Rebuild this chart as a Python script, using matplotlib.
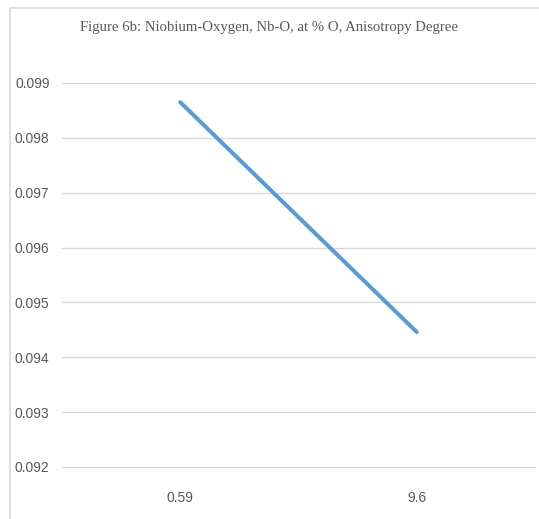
import matplotlib
matplotlib.use("Agg")
import matplotlib.pyplot as plt
from matplotlib.patches import Rectangle

categories = ["0.59", "9.6"]
values = [0.09865, 0.09446]
yticks = [0.092, 0.093, 0.094, 0.095, 0.096, 0.097, 0.098, 0.099]
title = "Figure 6b: Niobium-Oxygen, Nb-O, at % O, Anisotropy Degree"

W, H = 539, 519
fig = plt.figure(figsize=(W / 100, H / 100), dpi=100)
fig.patch.set_facecolor("white")

# chart border (cut off at right and bottom)
fig.patches.append(Rectangle((10 / W, -0.1), 1.2, 1 - 8 / H + 0.1,
                             transform=fig.transFigure, fill=False,
                             edgecolor="#d9d9d9", linewidth=1.2))

ax = fig.add_axes([62 / W, 1 - 467 / H, (535 - 62) / W, (467 - 83) / H])
x = list(range(len(categories)))
ax.plot(x, values, color="#5b9bd5", linewidth=2.9, solid_capstyle="round")
ax.set_xlim(-0.5, len(categories) - 0.5)
ax.set_ylim(0.092, 0.099)
ax.set_yticks(yticks)
ax.set_yticklabels([f"{v:.3f}" for v in yticks])
ax.set_xticks(x)
ax.set_xticklabels(categories)
ax.grid(axis="y", color="#d9d9d9", linewidth=1)
for gl in ax.get_ygridlines():
    gl.set_clip_on(False)
ax.set_axisbelow(True)
for s in ax.spines.values():
    s.set_visible(False)
ax.tick_params(axis="both", length=0, colors="#595959", labelsize=10)
ax.tick_params(axis="y", pad=9)
ax.tick_params(axis="x", pad=17)
for lab in ax.get_xticklabels() + ax.get_yticklabels():
    lab.set_fontfamily(["Liberation Sans", "DejaVu Sans"])

fig.text(0.5, 1 - 28 / H, title, ha="center", va="center",
         fontsize=10.6, color="#595959",
         fontfamily=["Liberation Serif", "DejaVu Serif"])

fig.savefig("out.png", dpi=100, facecolor="white")
